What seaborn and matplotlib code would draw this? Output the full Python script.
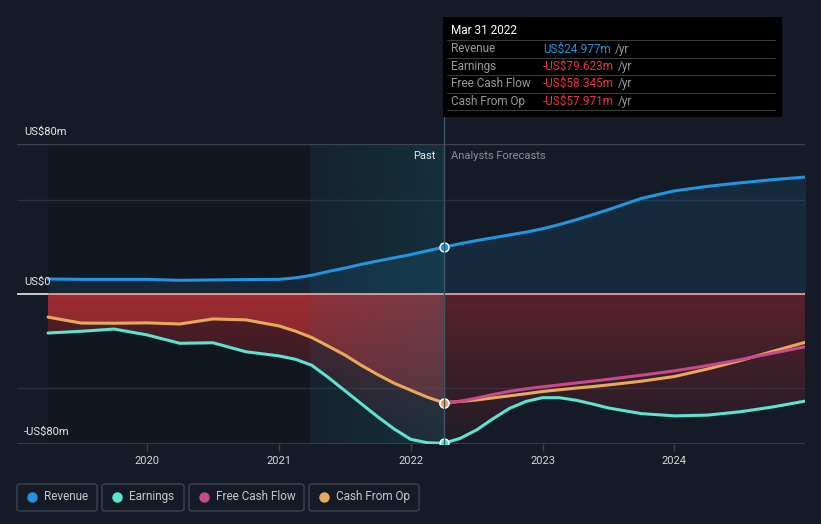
import numpy as np
import pandas as pd
import matplotlib.pyplot as plt
import seaborn as sns
from matplotlib.patches import Rectangle, FancyBboxPatch
from matplotlib.lines import Line2D

# past (US$m, trailing twelve months)
past_x = [2019.25, 2019.5, 2019.75, 2020.0, 2020.25, 2020.5, 2020.75, 2021.0,
          2021.125, 2021.25, 2021.375, 2021.5, 2021.625, 2021.75, 2021.875,
          2022.0, 2022.125, 2022.25]
past_revenue = [8.0, 7.8, 7.8, 7.8, 7.3, 7.5, 7.7, 7.8,
                8.6, 10.0, 12.0, 13.8, 15.8, 17.6, 19.3,
                21.0, 23.0, 24.977]
past_earnings = [-20.8, -19.9, -18.7, -21.8, -26.3, -26.0, -30.8, -33.0,
                 -34.8, -38.0, -44.5, -51.5, -58.5, -65.5, -72.0,
                 -77.5, -79.3, -79.623]
past_cfo = [-12.3, -15.5, -15.6, -15.4, -16.0, -13.3, -13.8, -17.0,
            -19.8, -23.2, -27.8, -32.5, -38.0, -43.0, -47.6,
            -51.3, -55.0, -57.971]

# analyst forecasts
fc_x = [2022.25, 2022.375, 2022.5, 2022.625, 2022.75, 2022.875, 2023.0,
        2023.125, 2023.25, 2023.375, 2023.5, 2023.75, 2024.0, 2024.25,
        2024.5, 2024.75, 2025.0]
fc_revenue = [24.977, 26.8, 28.5, 30.0, 31.5, 33.0, 34.8,
              37.0, 39.5, 42.2, 45.0, 51.0, 55.0, 57.4,
              59.3, 61.0, 62.4]
fc_earnings = [-79.623, -77.0, -72.5, -66.5, -61.0, -57.3, -55.3,
               -55.3, -56.6, -58.6, -60.8, -63.8, -65.0, -64.6,
               -62.8, -60.2, -57.0]
fc_fcf = [-58.345, -57.2, -55.5, -53.6, -51.9, -50.6, -49.5,
          -48.5, -47.5, -46.5, -45.5, -43.3, -41.0, -38.2,
          -35.0, -31.5, -28.0]
fc_cfo = [-57.971, -57.3, -56.5, -55.4, -54.3, -53.2, -52.0,
          -51.1, -50.2, -49.4, -48.5, -46.5, -44.0, -40.0,
          -35.5, -30.5, -25.6]

tick_years = [2020, 2021, 2022, 2023, 2024]
today = 2022.25
past_start = 2021.24

C_REV = "#2394df"
C_EARN = "#5ee3d0"
C_FCF = "#c64a8c"
C_CFO = "#e8a95a"
BG = "#151b26"

sns.set_style("dark")
plt.rcParams["font.family"] = ["Roboto", "DejaVu Sans"]

W, H = 821, 524
fig = plt.figure(figsize=(W / 100, H / 100), dpi=100, facecolor=BG)


def fx(px):
    return px / W


def fy(py):
    return 1 - py / H


ax = fig.add_axes([fx(17), fy(444), fx(805) - fx(17), fy(144) - fy(444)])
ax.set_facecolor(BG)
ax.set_xlim(2019.015, 2024.99)
ax.set_ylim(-80, 80)

x_all = np.array(past_x + fc_x[1:])
earn_all = np.array(past_earnings + fc_earnings[1:])
rev_all = np.array(past_revenue + fc_revenue[1:])

# darker area before the shaded "past" band
ax.axvspan(2019.25, past_start, color="#12161f", zorder=0, lw=0)


def gradient_fill(x, y1, y2, rgb, a_top, a_bot, zorder):
    poly = ax.fill_between(x, y1, y2, color="none", lw=0)
    n = 256
    img = np.zeros((n, 2, 4))
    img[..., 0], img[..., 1], img[..., 2] = rgb
    img[..., 3] = np.linspace(a_top, a_bot, n)[:, None]
    y_lo = min(np.min(y1), np.min(y2))
    y_hi = max(np.max(y1), np.max(y2))
    im = ax.imshow(img, extent=[min(x), max(x), y_lo, y_hi], aspect="auto",
                   origin="upper", zorder=zorder, interpolation="bilinear")
    im.set_clip_path(poly.get_paths()[0], transform=ax.transData)
    return im


# revenue area
ax.fill_between(x_all, 0, rev_all, color=C_REV, alpha=0.13, lw=0, zorder=1)
# loss area down to earnings
gradient_fill(x_all, 0, earn_all, (0.63, 0.16, 0.19), 0.5, 0.08, zorder=1)
# past cash from op area
gradient_fill(np.array(past_x), 0, np.array(past_cfo), (0.70, 0.19, 0.21), 0.75, 0.45, zorder=1.5)

# past band overlay
band = np.zeros((2, 256, 4))
band[..., 0], band[..., 1], band[..., 2] = 0.08, 0.40, 0.48
band[..., 3] = np.linspace(0.1, 0.28, 256)[None, :]
ax.imshow(band, extent=[past_start, today, -80, 80], aspect="auto", zorder=2,
          interpolation="bilinear")

# grid lines
for yv in (50, -50):
    ax.axhline(yv, color="#2a313c", lw=1, zorder=0.5)
ax.axhline(80, color="#3e444e", lw=1, zorder=3)
ax.axhline(-80, color="#3e444e", lw=1.2, zorder=3)
ax.hlines(0, 2019.0, 2019.25, color="#e8e8e8", lw=1.2, zorder=3)
ax.hlines(0, 2019.25, 2025.0, color="#f0a8a8", lw=1.2, zorder=3)

# lines
past_df = pd.DataFrame({"x": past_x, "Revenue": past_revenue,
                        "Earnings": past_earnings, "Cash From Op": past_cfo})
fc_df = pd.DataFrame({"x": fc_x, "Revenue": fc_revenue, "Earnings": fc_earnings,
                      "Free Cash Flow": fc_fcf, "Cash From Op": fc_cfo})

for df in (past_df, fc_df):
    sns.lineplot(data=df, x="x", y="Cash From Op", color=C_CFO, lw=2.2, ax=ax, zorder=4)
    if "Free Cash Flow" in df:
        sns.lineplot(data=df, x="x", y="Free Cash Flow", color=C_FCF, lw=2.2, ax=ax, zorder=4)
    sns.lineplot(data=df, x="x", y="Earnings", color=C_EARN, lw=2.2, ax=ax, zorder=4)
    sns.lineplot(data=df, x="x", y="Revenue", color=C_REV, lw=2.2, ax=ax, zorder=4)

for v, c in ((fc_fcf[0], C_FCF), (fc_cfo[0], C_CFO), (fc_earnings[0], C_EARN), (fc_revenue[0], C_REV)):
    ax.plot([today], [v], marker="o", ms=6.5, mfc=c, mec="white", mew=1, zorder=6)

ax.set_xlabel("")
ax.set_ylabel("")
ax.set_yticks([])
ax.set_xticks(tick_years)
ax.set_xticklabels([str(y) for y in tick_years])
ax.tick_params(axis="x", colors="#3e444e", labelcolor="#d8d8d8", labelsize=8,
               length=5, width=1, pad=4, direction="out", bottom=True)
for s in ax.spines.values():
    s.set_visible(False)

# today line
fig.add_artist(Line2D([fx(443.5), fx(443.5)], [fy(17), fy(444)], color="#3c5866", lw=1, zorder=1))

# axis value labels
fig.text(fx(24), fy(132), "US$80m", color="#e8e8e8", fontsize=8, va="center")
fig.text(fx(24), fy(282), "US$0", color="#e8e8e8", fontsize=8, va="center")
fig.text(fx(24), fy(432), "-US$80m", color="#e8e8e8", fontsize=8, va="center")
fig.text(fx(435), fy(156), "Past", color="#e8e8e8", fontsize=8, va="center", ha="right")
fig.text(fx(451), fy(156), "Analysts Forecasts", color="#8a8f96", fontsize=8, va="center")

# tooltip
fig.add_artist(Rectangle((fx(443), fy(117)), fx(782) - fx(443), fy(17) - fy(117),
                         transform=fig.transFigure, facecolor="black", edgecolor="none", zorder=5))
fig.text(fx(451), fy(31), "Mar 31 2022", color="white", fontsize=8.5, va="center", zorder=6)
rows = [("Revenue", "US$24.977m", C_REV),
        ("Earnings", "-US$79.623m", "#e8363d"),
        ("Free Cash Flow", "-US$58.345m", "#e8363d"),
        ("Cash From Op", "-US$57.971m", "#e8363d")]
renderer = fig.canvas.get_renderer()
for i, (lab, val, col) in enumerate(rows):
    yy = 49 + i * 17.4
    fig.add_artist(Line2D([fx(447), fx(775)], [fy(yy - 8.7), fy(yy - 8.7)],
                          color="#3a3a3a", lw=0.8, zorder=6))
    fig.text(fx(451), fy(yy), lab, color="#9a9a9a", fontsize=8.5, va="center", zorder=6)
    t = fig.text(fx(543), fy(yy), val, color=col, fontsize=8.5, va="center", zorder=6)
    x_end = t.get_window_extent(renderer).x1
    fig.text(fx(x_end + 4), fy(yy), "/yr", color="#9a9a9a", fontsize=8.5, va="center", zorder=6)
fig.add_artist(Line2D([fx(447), fx(775)], [fy(110), fy(110)], color="#3a3a3a", lw=0.8, zorder=6))

# legend
legend_items = [("Revenue", C_REV, 17, 97), ("Earnings", C_EARN, 102, 184),
                ("Free Cash Flow", C_FCF, 189, 304), ("Cash From Op", C_CFO, 309, 419)]
for lab, col, x0, x1 in legend_items:
    fig.add_artist(FancyBboxPatch((fx(x0), fy(511)), fx(x1) - fx(x0), fy(484) - fy(511),
                                  boxstyle="round,pad=0,rounding_size=0.004",
                                  transform=fig.transFigure, facecolor="none",
                                  edgecolor="#3e444e", lw=1))
    fig.add_artist(Line2D([fx(x0 + 15)], [fy(497)], marker="o", ms=6.5, color=col, lw=0))
    fig.text(fx(x0 + 27), fy(496.5), lab, color="#c8c8c8", fontsize=8.5, va="center")

fig.savefig("out.png", dpi=100, facecolor=BG)
